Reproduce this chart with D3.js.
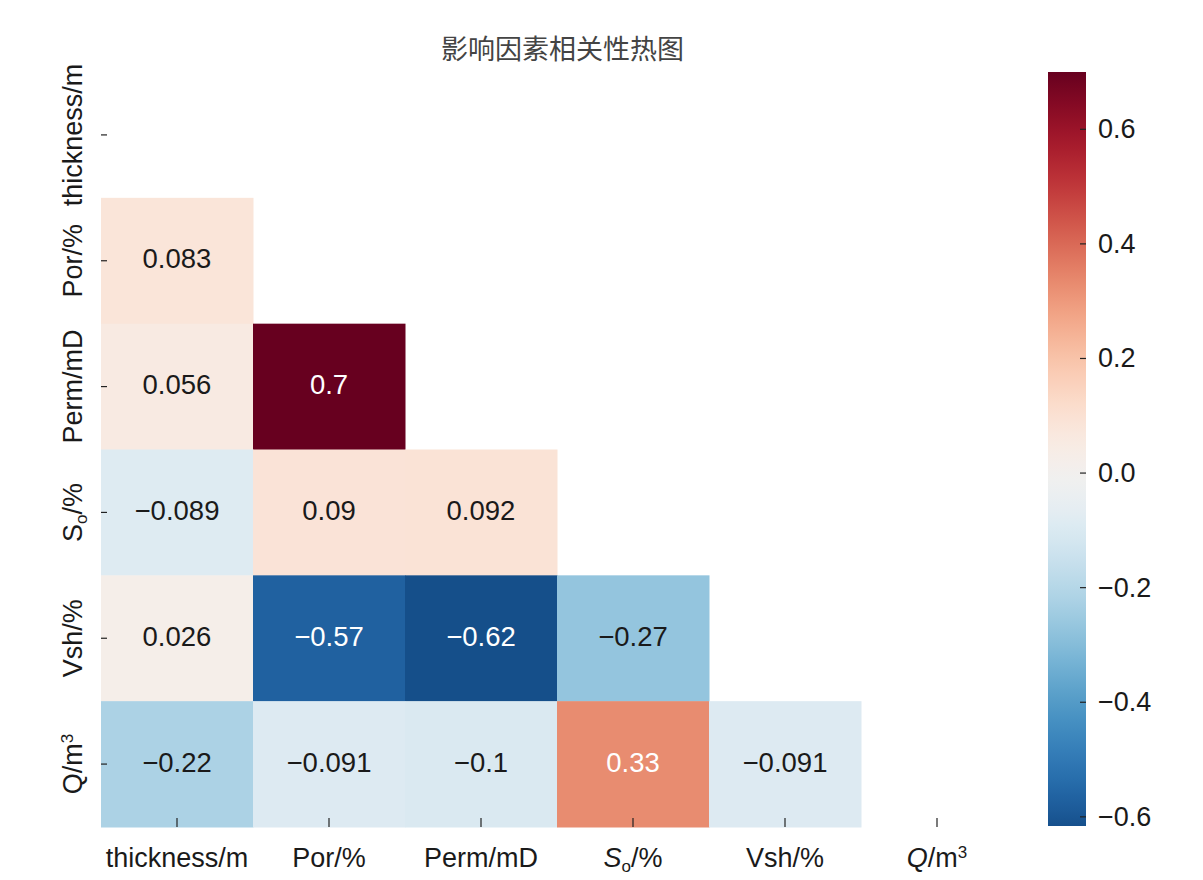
<!DOCTYPE html>
<html><head><meta charset="utf-8">
<script src="https://cdn.jsdelivr.net/npm/d3@7"></script>
<style>
html,body{margin:0;padding:0;background:#fff;}
text{font-family:"Liberation Sans",Arial,Helvetica,sans-serif;}
</style>
</head><body>
<svg id="chart" width="1203" height="880"></svg>
<script>
// ---- data ----
const variables = ["thickness", "Por", "Perm", "So", "Vsh", "Q"];
const rowThickness = [];
const rowPor = [0.083];
const rowPerm = [0.056, 0.7];
const rowSo = [-0.089, 0.09, 0.092];
const rowVsh = [0.026, -0.57, -0.62, -0.27];
const rowQ = [-0.22, -0.091, -0.1, 0.33, -0.091];
const colorbarTicks = [-0.6, -0.4, -0.2, 0.0, 0.2, 0.4, 0.6];
const vmin = -0.616, vmax = 0.70;
const title = "影响因素相关性热图";

(function () {
const rows = [rowThickness, rowPor, rowPerm, rowSo, rowVsh, rowQ];
const cells = [];
rows.forEach((r, i) => r.forEach((v, j) => cells.push({row: variables[i], col: variables[j], v})));

const svg = d3.select("#chart");
const pLeft = 101, pRight = 1013, pTop = 72, pBottom = 827;
const x = d3.scaleBand().domain(variables).range([pLeft, pRight]);
const y = d3.scaleBand().domain(variables).range([pTop, pBottom]);
const half = Math.max(Math.abs(vmin), Math.abs(vmax));
const color = v => d3.interpolateRdBu(0.5 - v / (2 * half));

// title
svg.append("text").attr("x", 562.5).attr("y", 47)
  .attr("text-anchor", "middle").attr("dominant-baseline", "central")
  .style("font-family", "'Noto Sans CJK SC',sans-serif").style("font-size", "27px")
  .attr("fill", "#444").text(title);

// cells
svg.append("g").selectAll("rect").data(cells).join("rect")
  .attr("x", d => x(d.col)).attr("y", d => y(d.row))
  .attr("width", x.bandwidth() + 0.5).attr("height", y.bandwidth() + 0.5)
  .attr("fill", d => color(d.v));

function lum(c) {
  const rgb = d3.rgb(c);
  const f = u => { u /= 255; return u <= 0.03928 ? u / 12.92 : Math.pow((u + 0.055) / 1.055, 2.4); };
  return 0.2126 * f(rgb.r) + 0.7152 * f(rgb.g) + 0.0722 * f(rgb.b);
}
const fmt = v => String(v).replace("-", "\u2212");
svg.append("g").selectAll("text").data(cells).join("text")
  .attr("x", d => x(d.col) + x.bandwidth() / 2)
  .attr("y", d => y(d.row) + y.bandwidth() / 2 - 2)
  .attr("text-anchor", "middle").attr("dominant-baseline", "central")
  .style("font-size", "27.5px")
  .attr("fill", d => lum(color(d.v)) > 0.408 ? "#1a1a1a" : "#ffffff")
  .text(d => fmt(d.v));

// label rendering with sub/superscripts
function label(sel, key, italic) {
  const st = italic ? "italic" : "normal";
  if (key === "thickness") sel.text("thickness/m");
  else if (key === "Por") sel.text("Por/%");
  else if (key === "Perm") sel.text("Perm/mD");
  else if (key === "Vsh") sel.text("Vsh/%");
  else if (key === "So") {
    sel.append("tspan").style("font-style", st).text("S");
    sel.append("tspan").attr("dy", 5).style("font-size", "17px").text("o");
    sel.append("tspan").attr("dy", -5).text("/%");
  } else if (key === "Q") {
    sel.append("tspan").style("font-style", st).text("Q");
    sel.append("tspan").text("/m");
    sel.append("tspan").attr("dy", -9).style("font-size", "17px").text("3");
  }
}

// x axis
const xg = svg.append("g");
variables.forEach(k => {
  const cx = x(k) + x.bandwidth() / 2;
  xg.append("line").attr("x1", cx).attr("x2", cx).attr("y1", pBottom).attr("y2", pBottom - 9)
    .attr("stroke", "#222").attr("stroke-width", 1.2);
  const t = xg.append("text").attr("x", cx).attr("y", 867).attr("text-anchor", "middle")
    .style("font-size", "27px").attr("fill", "#1a1a1a");
  label(t, k, true);
});
// y axis
const yg = svg.append("g");
variables.forEach(k => {
  const cy = y(k) + y.bandwidth() / 2;
  yg.append("line").attr("x1", pLeft).attr("x2", pLeft + 6).attr("y1", cy).attr("y2", cy)
    .attr("stroke", "#222").attr("stroke-width", 1.2);
  const t = yg.append("text").attr("transform", `translate(82,${cy}) rotate(-90)`)
    .attr("text-anchor", "middle").style("font-size", "27px").attr("fill", "#1a1a1a");
  label(t, k, false);
});

// colorbar
const cbX = 1048, cbW = 38, cbTop = 72, cbBottom = 826;
const cbScale = d3.scaleLinear().domain([vmin, vmax]).range([cbBottom, cbTop]);
const defs = svg.append("defs");
const grad = defs.append("linearGradient").attr("id", "cbgrad")
  .attr("x1", 0).attr("y1", 1).attr("x2", 0).attr("y2", 0);
d3.range(0, 1.0001, 0.02).forEach(t => {
  grad.append("stop").attr("offset", t).attr("stop-color", color(vmin + t * (vmax - vmin)));
});
svg.append("rect").attr("x", cbX).attr("y", cbTop).attr("width", cbW).attr("height", cbBottom - cbTop)
  .attr("fill", "url(#cbgrad)");
const cg = svg.append("g");
colorbarTicks.forEach(t => {
  const yy = cbScale(t);
  cg.append("line").attr("x1", cbX + cbW - 6).attr("x2", cbX + cbW).attr("y1", yy).attr("y2", yy)
    .attr("stroke", "#222").attr("stroke-width", 1.2);
  cg.append("text").attr("x", 1098).attr("y", yy).attr("dominant-baseline", "central")
    .style("font-size", "27px").attr("fill", "#1a1a1a").text(fmt(t.toFixed(1)));
});
})();
</script>
</body></html>
